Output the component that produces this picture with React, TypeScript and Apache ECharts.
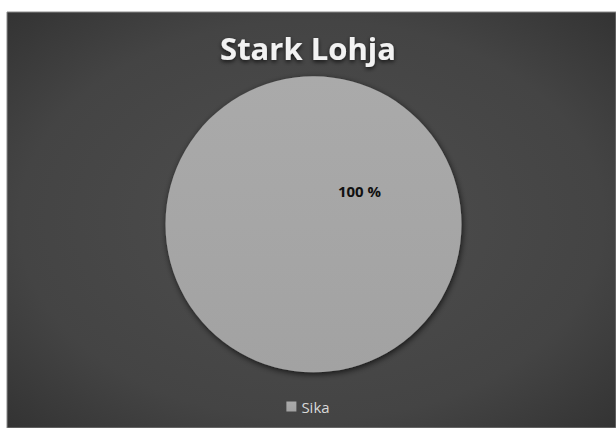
import React, { useEffect, useRef } from "react";
import * as echarts from "echarts";

const titleText = "Stark Lohja";
const categories = ["Sika"];
const values = [100];

export default function App() {
  const ref = useRef<HTMLDivElement>(null);
  useEffect(() => {
    document.body.style.margin = "0";
    const chart = echarts.init(ref.current!, null, { renderer: "svg" });
    chart.setOption({
      animation: false,
      backgroundColor: "#ffffff",
      graphic: [
        {
          type: "rect",
          z: -10,
          shape: { x: 7, y: 12, width: 609, height: 416 },
          style: {
            fill: new echarts.graphic.RadialGradient(0.5, 0.5, 0.8, [
              { offset: 0, color: "#4e4e4e" },
              { offset: 0.6, color: "#444444" },
              { offset: 1, color: "#2c2c2c" },
            ]),
            stroke: "#8a8a8a",
            lineWidth: 1,
          },
        },
      ],
      title: {
        text: titleText,
        left: "center",
        top: 27,
        textStyle: {
          color: "#f2f2f2",
          fontFamily: "Open Sans",
          fontWeight: "bold",
          fontSize: 31,
          textShadowColor: "rgba(0,0,0,0.7)",
          textShadowBlur: 4,
          textShadowOffsetY: 2,
        },
      },
      legend: {
        data: categories,
        top: 394,
        left: "center",
        icon: "rect",
        itemWidth: 10,
        itemHeight: 10,
        itemGap: 5,
        textStyle: {
          color: "#d9d9d9",
          fontFamily: "Open Sans",
          fontSize: 15,
        },
      },
      series: [
        {
          type: "pie",
          center: [314, 225],
          radius: [0, 148],
          startAngle: 217,
          avoidLabelOverlap: false,
          data: categories.map((c, i) => ({ name: c, value: values[i] })),
          itemStyle: {
            color: new echarts.graphic.LinearGradient(0, 0, 0, 1, [
              { offset: 0, color: "#aaaaaa" },
              { offset: 1, color: "#a2a2a2" },
            ]),
            borderWidth: 0,
            shadowColor: "rgba(0,0,0,0.7)",
            shadowBlur: 6,
            shadowOffsetX: 1,
            shadowOffsetY: 2,
          },
          label: {
            show: true,
            position: "inside",
            formatter: (p: any) => `${Math.round(p.percent)} %`,
            color: "#111111",
            fontFamily: "Open Sans",
            fontWeight: "bold",
            fontSize: 15,
            offset: [-16, 12],
          },
          labelLine: { show: false },
          emphasis: { disabled: true },
        },
      ],
    });
    return () => chart.dispose();
  }, []);
  return (
    <div style={{ position: "fixed", left: 0, top: 0, width: 616, height: 428 }}>
      <div ref={ref} style={{ width: 616, height: 428 }} />
    </div>
  );
}
